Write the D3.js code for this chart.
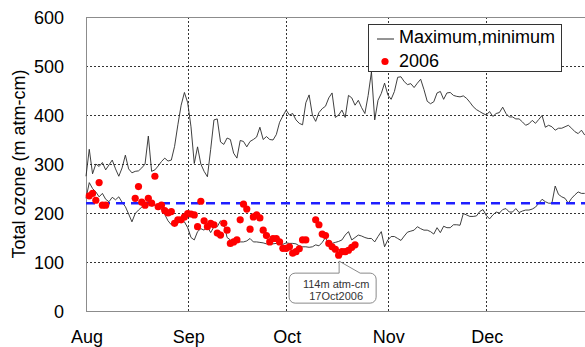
<!DOCTYPE html>
<html>
<head>
<meta charset="utf-8">
<script src="https://cdn.jsdelivr.net/npm/d3@7"></script>
<style>
  body { margin: 0; background: #fff; }
  svg { display: block; font-family: 'Liberation Sans', Arial, sans-serif; }
</style>
</head>
<body>
<script>
// daily climatological max / min (m atm-cm), Aug 1 .. Dec 31
const seasonStart = '2006-08-01'
const maxOzone = [
  275, 330, 280, 300, 295, 303, 288, 298, 308, 290, 275, 292, 318, 290, 282, 285, 286, 292, 300, 357,
  285, 288, 296, 305, 312, 306, 308, 336, 380, 420, 446, 425, 376, 301, 335, 300, 285, 274, 330, 390,
  392, 345, 340, 353, 350, 322, 312, 348, 346, 335, 346, 350, 355, 375, 350, 356, 350, 349, 360, 385,
  398, 410, 400, 403, 390, 383, 380, 425, 441, 400, 387, 405, 413, 418, 435, 445, 395, 400, 410, 395,
  440, 435, 420, 430, 415, 403, 440, 488, 390, 430, 444, 465, 441, 432, 448, 477, 478, 468, 462, 464,
  456, 465, 473, 452, 428, 423, 427, 445, 448, 432, 445, 446, 440, 438, 437, 439, 434, 426, 417, 411,
  407, 403, 400, 407, 397, 403, 405, 416, 403, 396, 396, 392, 392, 386, 379, 382, 389, 383, 391, 399,
  375, 379, 376, 369, 373, 373, 376, 379, 373, 366, 362, 369, 359
]
const minOzone = [
  230, 262, 250, 243, 233, 240, 228, 223, 232, 227, 233, 222, 213, 198, 182, 199, 206, 212, 218, 223,
  214, 216, 212, 208, 197, 184, 176, 180, 189, 185, 182, 170, 150, 145, 162, 168, 165, 172, 160, 172,
  172, 184, 180, 150, 145, 138, 141, 141, 141, 143, 148, 141, 141, 140, 139, 137, 137, 137, 138, 137,
  136, 139, 138, 138, 137, 133, 131, 131, 130, 131, 135, 133, 140, 150, 135, 138, 140, 142, 145, 155,
  162, 145, 150, 155, 153, 150, 148, 148, 141, 152, 162, 131, 145, 152, 152, 148, 144, 153, 161, 163,
  165, 172, 168, 165, 165, 162, 157, 170, 160, 173, 170, 170, 176, 176, 175, 199, 196, 193, 193, 194,
  203, 207, 195, 188, 196, 202, 200, 207, 209, 202, 202, 209, 201, 204, 206, 206, 208, 212, 220, 228,
  223, 220, 220, 255, 238, 233, 230, 220, 230, 237, 243, 240, 240
]

// 2006 daily values
const obsDates = [
  '08-02', '08-03', '08-04', '08-05', '08-06', '08-07',
  '08-16', '08-17', '08-18', '08-19', '08-20', '08-21', '08-22', '08-23', '08-24', '08-25',
  '08-26', '08-27', '08-28', '08-29', '08-30', '08-31',
  '09-01', '09-02', '09-03', '09-04', '09-05', '09-06', '09-07', '09-08', '09-09', '09-10',
  '09-11', '09-12', '09-13', '09-14', '09-15', '09-16', '09-17', '09-18', '09-19', '09-20',
  '09-21', '09-22', '09-23', '09-24', '09-25', '09-26', '09-27', '09-28', '09-29', '09-30',
  '10-01', '10-02', '10-03', '10-04', '10-05', '10-06', '10-07',
  '10-10', '10-11', '10-12', '10-13', '10-14', '10-15', '10-16', '10-17', '10-18', '10-19',
  '10-20', '10-21', '10-22'
]
const obsOzone = [
  235, 240, 226, 262, 216, 216,
  230, 254, 222, 216, 230, 220, 275, 213, 216, 205,
  200, 203, 179, 186, 186, 192,
  199, 198, 196, 172, 224, 184, 172, 179, 176, 159,
  155, 179, 165, 138, 141, 145, 186, 218, 208, 167,
  192, 196, 190, 165, 154, 141, 148, 148, 141, 128,
  128, 131, 118, 121, 127, 145, 145,
  186, 176, 157, 154, 138, 131, 126, 114, 121, 121,
  124, 130, 135
]

const threshold = 220
const yTicks = [0, 100, 200, 300, 400, 500, 600]
const monthTicks = ['2006-08-01', '2006-09-01', '2006-10-01', '2006-11-01', '2006-12-01']
const monthLabels = ['Aug', 'Sep', 'Oct', 'Nov', 'Dec']

const width = 585
const height = 347
const margin = {top: 17, right: -3, bottom: 36, left: 86}

const parse = d3.timeParse('%Y-%m-%d')
const t0 = parse(seasonStart)
const dayDate = i => d3.timeDay.offset(t0, i)

const svg = d3.select('body').append('svg')
  .attr('width', width)
  .attr('height', height)

const x = d3.scaleTime()
  .domain([t0, parse('2007-01-01')])
  .range([margin.left, width - margin.right])

const y = d3.scaleLinear()
  .domain([0, 600])
  .range([height - margin.bottom, margin.top])

// grid
const grid = svg.append('g')
  .attr('stroke', '#333')
  .attr('stroke-width', 1)
  .attr('stroke-dasharray', '2,2')
  .attr('shape-rendering', 'crispEdges')

grid.selectAll('line.h')
  .data(yTicks.filter(v => v > 0 && v < 600))
  .join('line')
    .attr('x1', margin.left)
    .attr('x2', width - margin.right)
    .attr('y1', v => Math.round(y(v)) + 0.5)
    .attr('y2', v => Math.round(y(v)) + 0.5)

grid.selectAll('line.v')
  .data(monthTicks.slice(1).map(parse))
  .join('line')
    .attr('x1', d => Math.round(x(d)) + 0.5)
    .attr('x2', d => Math.round(x(d)) + 0.5)
    .attr('y1', margin.top)
    .attr('y2', y(0))

// frame
svg.append('rect')
  .attr('x', margin.left + 0.5)
  .attr('y', margin.top + 0.5)
  .attr('width', width - margin.right - margin.left)
  .attr('height', y(0) - margin.top)
  .attr('fill', 'none')
  .attr('stroke', '#8c8c8c')
  .attr('stroke-width', 1)

// axes labels
svg.append('g')
  .selectAll('text')
  .data(yTicks)
  .join('text')
    .attr('x', 64)
    .attr('y', v => y(v) + 6.5)
    .attr('text-anchor', 'end')
    .attr('font-size', 18)
    .text(v => v)

svg.append('g')
  .selectAll('text')
  .data(monthTicks.map(parse))
  .join('text')
    .attr('x', d => x(d) + 1)
    .attr('y', 343)
    .attr('text-anchor', 'middle')
    .attr('font-size', 18)
    .text((d, i) => monthLabels[i])

svg.append('text')
  .attr('transform', `translate(25, ${(margin.top + y(0)) / 2}) rotate(-90)`)
  .attr('text-anchor', 'middle')
  .attr('font-size', 18)
  .text('Total ozone (m atm-cm)')

// max / min lines
const line = d3.line()
  .x((v, i) => x(dayDate(i)))
  .y(v => y(v))

svg.append('g')
  .selectAll('path')
  .data([maxOzone, minOzone])
  .join('path')
    .attr('d', line)
    .attr('fill', 'none')
    .attr('stroke', '#2a2a2a')
    .attr('stroke-width', 0.9)

// 220 threshold
svg.append('line')
  .attr('x1', margin.left)
  .attr('x2', width - margin.right)
  .attr('y1', y(threshold))
  .attr('y2', y(threshold))
  .attr('stroke', '#1f1fff')
  .attr('stroke-width', 2.6)
  .attr('stroke-dasharray', '9,6')

// 2006 observations
const obs = obsDates.map((d, i) => ({date: parse('2006-' + d), value: obsOzone[i]}))

svg.append('g')
  .selectAll('circle')
  .data(obs)
  .join('circle')
    .attr('cx', d => x(d.date))
    .attr('cy', d => y(d.value))
    .attr('r', 3.6)
    .attr('fill', '#ff0000')

// legend
const legend = svg.append('g')
legend.append('rect')
  .attr('x', 368.5)
  .attr('y', 24.5)
  .attr('width', 193)
  .attr('height', 47)
  .attr('fill', '#fff')
  .attr('stroke', '#333')
legend.append('line')
  .attr('x1', 377).attr('x2', 394)
  .attr('y1', 39).attr('y2', 39)
  .attr('stroke', '#2a2a2a')
legend.append('text')
  .attr('x', 399).attr('y', 43)
  .attr('font-size', 18)
  .text('Maximum,minimum')
legend.append('circle')
  .attr('cx', 385).attr('cy', 61.5)
  .attr('r', 3.6)
  .attr('fill', '#ff0000')
legend.append('text')
  .attr('x', 399).attr('y', 67)
  .attr('font-size', 18)
  .text('2006')

// callout for the minimum
const lowest = obs.reduce((a, b) => b.value < a.value ? b : a)
const tx = x(lowest.date) + 0.5
const ty = y(lowest.value) + 6
const bx0 = tx - 50, bx1 = tx + 37, by0 = ty + 12, by1 = ty + 42, r = 6

const callout = d3.path()
callout.moveTo(bx0 + r, by0)
callout.lineTo(tx, by0)
callout.lineTo(tx, ty)
callout.lineTo(tx + 21, by0)
callout.lineTo(bx1 - r, by0)
callout.arcTo(bx1, by0, bx1, by0 + r, r)
callout.lineTo(bx1, by1 - r)
callout.arcTo(bx1, by1, bx1 - r, by1, r)
callout.lineTo(bx0 + r, by1)
callout.arcTo(bx0, by1, bx0, by1 - r, r)
callout.lineTo(bx0, by0 + r)
callout.arcTo(bx0, by0, bx0 + r, by0, r)
callout.closePath()

svg.append('path')
  .attr('d', callout.toString())
  .attr('fill', '#fff')
  .attr('stroke', '#8a8a8a')
  .attr('stroke-width', 1)

const fmt = d3.timeFormat('%-d%b%Y')
svg.append('g')
  .attr('font-size', 11)
  .attr('fill', '#333')
  .attr('text-anchor', 'middle')
  .selectAll('text')
  .data([`${lowest.value}m atm-cm`, fmt(lowest.date)])
  .join('text')
    .attr('x', tx - 3)
    .attr('y', (d, i) => by0 + 15 + i * 12)
    .text(d => d)
</script>
</body>
</html>
